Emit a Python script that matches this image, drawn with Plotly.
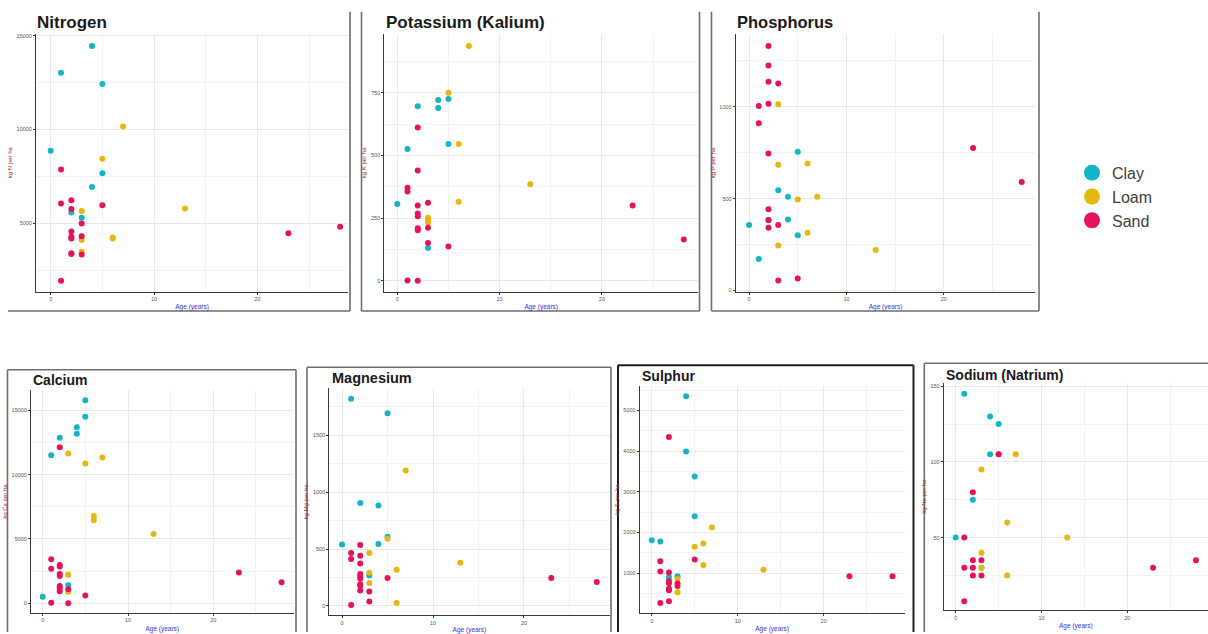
import plotly.graph_objects as go

W, H = 1208, 634

SOIL_COLOURS = {"Clay": "#13B4C6", "Loam": "#E7B80C", "Sand": "#E6135B"}
SOILS = ["Clay", "Loam", "Sand"]

# ---- nutrient content by orchard age and soil type -----------------------
nitrogen_age = [4, 1, 5, 0, 5, 4, 2, 3,
                7, 5, 3, 13, 3, 6, 6, 3,
                1, 1, 2, 5, 2, 3, 2, 2, 2, 3, 23, 28, 2, 2, 3, 1]
nitrogen_soil = ["Clay"] * 8 + ["Loam"] * 8 + ["Sand"] * 16
nitrogen_kg = [14440, 13020, 12430, 8870, 7670, 6940, 5590, 5300,
               10160, 8440, 5660, 5800, 4120, 4260, 4200, 3500,
               7880, 6065, 6240, 5975, 5766, 5000, 4580, 4300, 4200, 4320,
               4480, 4820, 3420, 3380, 3350, 1950]

potassium_age = [4, 5, 4, 2, 5, 1, 0, 3,
                 7, 5, 6, 13, 6, 3, 3, 3,
                 2, 2, 1, 1, 3, 2, 2, 2, 3, 2, 2, 3, 5, 23, 28, 1, 2]
potassium_soil = ["Clay"] * 8 + ["Loam"] * 8 + ["Sand"] * 17
potassium_kg = [722, 726, 690, 697, 546, 526, 306, 130,
                937, 750, 546, 385, 315, 251, 240, 231,
                612, 440, 371, 356, 311, 300, 268, 257, 211, 209, 201, 150,
                136, 300, 164, 1, 0]

phosphorus_age = [5, 3, 4, 2, 0, 4, 5, 1,
                  3, 3, 6, 5, 7, 6, 3, 13,
                  2, 2, 2, 3, 2, 1, 1, 2, 23, 28, 2, 2, 2, 3, 3, 5]
phosphorus_soil = ["Clay"] * 8 + ["Loam"] * 8 + ["Sand"] * 16
phosphorus_kg = [755, 546, 510, 385, 356, 386, 301, 172,
                 1014, 685, 691, 496, 510, 315, 245, 220,
                 1331, 1225, 1136, 1127, 1016, 1004, 911, 746, 776, 590,
                 442, 383, 342, 356, 55, 66]

calcium_age = [5, 5, 4, 4, 2, 1, 3, 0,
               3, 5, 7, 6, 6, 13, 3, 3,
               2, 1, 1, 2, 2, 2, 2, 2, 2, 2, 3, 5, 1, 3, 23, 28]
calcium_soil = ["Clay"] * 8 + ["Loam"] * 8 + ["Sand"] * 16
calcium_kg = [15765, 14490, 13673, 13163, 12857, 11505, 1403, 510,
              11633, 10867, 11326, 6786, 6454, 5383, 2219, 900,
              12117, 3418, 2679, 2985, 2857, 2270, 2117, 1352, 1199, 944,
              1097, 612, 51, 0, 2398, 1633]

magnesium_age = [1, 5, 2, 4, 5, 0, 4, 3,
                 7, 5, 3, 13, 3, 6, 3, 6,
                 2, 1, 1, 2, 2, 2, 2, 2, 5, 2, 2, 2, 3, 3, 1, 23, 28]
magnesium_soil = ["Clay"] * 8 + ["Loam"] * 8 + ["Sand"] * 17
magnesium_kg = [1819, 1692, 905, 882, 608, 539, 545, 268,
                1190, 591, 464, 380, 291, 317, 202, 26,
                536, 464, 412, 441, 372, 280, 262, 239, 245, 190, 176, 135,
                127, 40, 9, 245, 210]

sulphur_age = [4, 4, 5, 5, 0, 1, 2, 3,
               7, 5, 6, 6, 13, 3, 3,
               2, 1, 5, 1, 2, 2, 2, 3, 3, 2, 2, 1, 2, 23, 28]
sulphur_soil = ["Clay"] * 8 + ["Loam"] * 7 + ["Sand"] * 15
sulphur_kg = [5347, 3990, 3376, 2398, 1808, 1776, 903, 919,
              2123, 1647, 1728, 1200, 1081, 855, 531,
              4346, 1291, 1332, 1040, 1016, 806, 750, 742, 685, 612, 580,
              265, 305, 919, 919]

sodium_age = [1, 4, 5, 4, 2, 0, 3,
              5, 7, 3, 6, 13, 3, 3, 6,
              5, 2, 1, 2, 3, 1, 2, 23, 28, 2, 3, 1]
sodium_soil = ["Clay"] * 7 + ["Loam"] * 8 + ["Sand"] * 12
sodium_kg = [145, 130, 125, 105, 75, 50, 30,
             105, 105, 95, 60, 50, 40, 30, 25,
             105, 80, 50, 35, 35, 30, 30, 30, 35, 25, 25, 8]

# ---- panel layout (pixel boxes of each plotting area) ---------------------
panels = [
    dict(title="Nitrogen", sym="N", age=nitrogen_age, soil=nitrogen_soil, kg=nitrogen_kg,
         box=(36, 348.2, 33, 295), xr=(-1.42, 28.78), yr=(1364, 15110), dy=5000,
         tsize=17, tpos=(35, 21.5)),
    dict(title="Potassium (Kalium)", sym="K", age=potassium_age, soil=potassium_soil, kg=potassium_kg,
         box=(384.3, 698.1, 33.3, 295), xr=(-1.27, 29.4), yr=(-44.5, 985.8), dy=250,
         tsize=17, tpos=(383.5, 21.7)),
    dict(title="Phosphorus", sym="P", age=phosphorus_age, soil=phosphorus_soil, kg=phosphorus_kg,
         box=(735.7, 1035.4, 33.7, 295), xr=(-1.37, 29.4), yr=(-7, 1395), dy=500,
         tsize=16.5, tpos=(735, 21.7)),
    dict(title="Calcium", sym="Ca", age=calcium_age, soil=calcium_soil, kg=calcium_kg,
         box=(31, 293.5, 394.8, 620.7), xr=(-1.37, 29.4), yr=(-743, 16553), dy=5000,
         tsize=14, tpos=(31, 384.3)),
    dict(title="Magnesium", sym="Mg", age=magnesium_age, soil=magnesium_soil, kg=magnesium_kg,
         box=(329.3, 609.5, 393, 623.3), xr=(-1.4, 29.4), yr=(-83, 1909.5), dy=500,
         tsize=14.5, tpos=(330, 382.7)),
    dict(title="Sulphur", sym="S", age=sulphur_age, soil=sulphur_soil, kg=sulphur_kg,
         box=(639.7, 904.5, 390.5, 621.1), xr=(-1.4, 29.4), yr=(11, 5601), dy=1000,
         tsize=14, tpos=(640, 380)),
    dict(title="Sodium (Natrium)", sym="Na", age=sodium_age, soil=sodium_soil, kg=sodium_kg,
         box=(943.7, 1208, 387.9, 617.7), xr=(-1.4, 29.4), yr=(2.2, 151.85), dy=50,
         tsize=14, tpos=(943.5, 379)),
]

# frame lines around each panel, in pixels (x0, y0, x1, y1, colour, width)
frames = [
    (8, 314.5, 350, 314.5, "#6e6e6e", 1.6), (350, 11, 350, 314.5, "#6e6e6e", 1.6),
    (361.5, 11, 361.5, 314.5, "#6e6e6e", 1.6), (361.5, 314.5, 699.5, 314.5, "#6e6e6e", 1.6),
    (699.5, 11, 699.5, 314.5, "#6e6e6e", 1.6),
    (711.5, 11, 711.5, 314.5, "#6e6e6e", 1.6), (711.5, 314.5, 1039, 314.5, "#6e6e6e", 1.6),
    (1039, 11, 1039, 314.5, "#6e6e6e", 1.6),
    (7.5, 374, 296, 374, "#6e6e6e", 1.6), (7.5, 374, 7.5, 640, "#6e6e6e", 1.6),
    (296, 374, 296, 640, "#6e6e6e", 1.6),
    (307, 371.5, 611, 371.5, "#6e6e6e", 1.6), (307, 371.5, 307, 640, "#6e6e6e", 1.6),
    (611, 371.5, 611, 640, "#6e6e6e", 1.6),
    (618, 369.5, 913.5, 369.5, "#1e1e1e", 2), (618, 369.5, 618, 640, "#1e1e1e", 2),
    (913.5, 369.5, 913.5, 640, "#1e1e1e", 2),
    (924.3, 367.5, 1212, 367.5, "#6e6e6e", 1.6), (924.3, 367.5, 924.3, 640, "#6e6e6e", 1.6),
]


def px(x):
    return x / W


def py(y):
    return 1 - y / H


fig = go.Figure()
layout = dict(
    width=W, height=H, margin=dict(l=0, r=0, t=0, b=0),
    paper_bgcolor="white", plot_bgcolor="white",
    font=dict(family="Liberation Sans, Arial, sans-serif"),
    showlegend=True, annotations=[], shapes=[],
)

for i, p in enumerate(panels, start=1):
    sfx = "" if i == 1 else str(i)
    xa, ya = "x" + sfx, "y" + sfx
    L, R, T, B = p["box"]
    for soil in SOILS:
        xs = [a for a, s in zip(p["age"], p["soil"]) if s == soil]
        ys = [v for v, s in zip(p["kg"], p["soil"]) if s == soil]
        fig.add_trace(go.Scatter(
            x=xs, y=ys, mode="markers", xaxis=xa, yaxis=ya, showlegend=False,
            marker=dict(size=6, color=SOIL_COLOURS[soil], line=dict(width=0)),
            cliponaxis=False, hoverinfo="skip"))
    common = dict(showline=True, linecolor="#3a3a3a", linewidth=1, mirror=False,
                  ticks="outside", ticklen=2, tickwidth=1, tickcolor="#3a3a3a",
                  tickfont=dict(size=5.5, color="#555555"),
                  showgrid=True, gridcolor="#e9e9e9", gridwidth=1, zeroline=False)
    layout["xaxis" + sfx] = dict(
        common, domain=[px(L), px(R)], range=list(p["xr"]), anchor=ya,
        tick0=0, dtick=10, tickformat="d",
        minor=dict(dtick=5, tick0=0, showgrid=True, gridcolor="#f3f3f3", gridwidth=1),
        title=dict(text="Age (years)", font=dict(size=6.5, color="#3434f0"), standoff=3))
    layout["yaxis" + sfx] = dict(
        common, domain=[py(B), py(T)], range=list(p["yr"]), anchor=xa,
        tick0=0, dtick=p["dy"], tickformat="d",
        minor=dict(dtick=p["dy"] / 2, tick0=0, showgrid=True, gridcolor="#f3f3f3", gridwidth=1),
        title=dict(text="kg %s per ha" % p["sym"], font=dict(size=6, color="#a02a30"), standoff=3))
    tx, ty = p["tpos"]
    layout["annotations"].append(dict(
        text="<b>%s</b>" % p["title"], xref="paper", yref="paper",
        x=px(tx), y=py(ty), xanchor="left", yanchor="middle", showarrow=False,
        font=dict(size=p["tsize"], color="#1a1a1a", family="Liberation Sans, Arial, sans-serif")))

for x0, y0, x1, y1, col, w in frames:
    layout["shapes"].append(dict(type="line", xref="paper", yref="paper",
                                 x0=px(x0), y0=py(y0), x1=px(x1), y1=py(y1),
                                 line=dict(color=col, width=w)))

# legend keys: empty traces carrying the larger legend symbol
for soil in SOILS:
    fig.add_trace(go.Scatter(x=[None], y=[None], mode="markers", name=soil,
                             marker=dict(size=16, color=SOIL_COLOURS[soil]),
                             showlegend=True))

layout["legend"] = dict(x=px(1072), y=py(157), xanchor="left", yanchor="top",
                        font=dict(size=16, color="#404040"), itemsizing="trace",
                        bgcolor="rgba(0,0,0,0)", tracegroupgap=0)

fig.update_layout(**layout)
fig.write_html("out.html")
